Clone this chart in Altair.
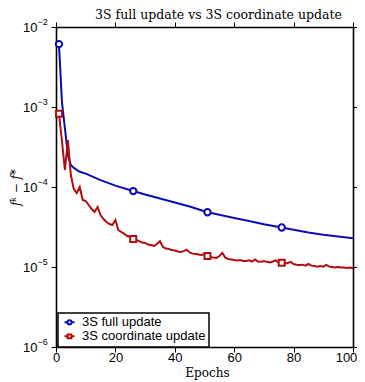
import altair as alt
import pandas as pd

BLUE = "#0c0cb4"
RED = "#b40c0c"
series_names = ["3S full update", "3S coordinate update"]

red_epochs = list(range(1, 101))
red_values = [
    8.24e-4, 3.76e-4, 1.63e-4, 3.87e-4, 1.41e-4, 9.44e-5, 8.41e-5, 1.00e-4, 6.88e-5, 6.68e-5,
    5.96e-5, 5.31e-5, 4.87e-5, 5.62e-5, 4.47e-5, 3.98e-5, 3.65e-5, 3.45e-5, 3.35e-5, 3.87e-5,
    2.90e-5, 2.74e-5, 2.59e-5, 2.44e-5, 2.37e-5, 2.24e-5, 2.18e-5, 2.11e-5, 2.02e-5, 2.00e-5,
    1.91e-5, 1.88e-5, 1.83e-5, 1.94e-5, 2.11e-5, 1.78e-5, 1.70e-5, 1.68e-5, 1.63e-5, 1.61e-5,
    1.56e-5, 1.54e-5, 1.58e-5, 1.65e-5, 1.52e-5, 1.47e-5, 1.45e-5, 1.43e-5, 1.41e-5, 1.45e-5,
    1.37e-5, 1.33e-5, 1.31e-5, 1.30e-5, 1.37e-5, 1.50e-5, 1.31e-5, 1.26e-5, 1.24e-5, 1.22e-5,
    1.21e-5, 1.22e-5, 1.19e-5, 1.19e-5, 1.21e-5, 1.17e-5, 1.24e-5, 1.17e-5, 1.16e-5, 1.19e-5,
    1.16e-5, 1.14e-5, 1.17e-5, 1.21e-5, 1.14e-5, 1.13e-5, 1.11e-5, 1.12e-5, 1.16e-5, 1.09e-5,
    1.07e-5, 1.06e-5, 1.07e-5, 1.04e-5, 1.09e-5, 1.04e-5, 1.03e-5, 1.01e-5, 1.03e-5, 1.01e-5,
    1.06e-5, 1.01e-5, 1.00e-5, 9.86e-6, 1.00e-5, 9.86e-6, 9.86e-6, 9.72e-6, 9.86e-6, 9.63e-6,
]
blue_epochs = [1, 2, 3, 4, 5, 6, 8, 10, 15, 20, 26, 30, 35, 40, 45, 51, 55, 60, 65, 70, 76, 80, 85, 90, 95, 100]
blue_values = [
    6.1e-3, 1.155e-3, 5.46e-4, 2.51e-4, 1.88e-4, 1.73e-4, 1.55e-4, 1.47e-4, 1.22e-4, 1.04e-4,
    8.9e-5, 8.05e-5, 7.18e-5, 6.4e-5, 5.7e-5, 4.83e-5, 4.49e-5, 4.1e-5, 3.76e-5, 3.43e-5,
    3.12e-5, 2.92e-5, 2.70e-5, 2.53e-5, 2.40e-5, 2.29e-5,
]
marker_epochs = [1, 26, 51, 76]
x_ticks = [0, 20, 40, 60, 80, 100]
y_ticks = [1e-2, 1e-3, 1e-4, 1e-5, 1e-6]
y_exponents = ["\u22122", "\u22123", "\u22124", "\u22125", "\u22126"]

df = pd.concat([
    pd.DataFrame({"series": series_names[0], "epoch": blue_epochs, "value": blue_values}),
    pd.DataFrame({"series": series_names[1], "epoch": red_epochs, "value": red_values}),
], ignore_index=True)
exp_df = pd.DataFrame({"tick": y_ticks, "exp": y_exponents})

xscale = alt.Scale(domain=[0, 100], nice=False, zero=False)
yscale = alt.Scale(type="log", domain=[1e-6, 1e-2], nice=False)
stroke_scale = alt.Scale(domain=series_names, range=[BLUE, RED])

CIRCLE_PATH = "M-1,0L-0.42,0M0.42,0L1,0M-0.42,0A0.42,0.42,0,1,1,0.42,0A0.42,0.42,0,1,1,-0.42,0Z"
SQUARE_PATH = "M-1,0L-0.38,0M0.38,0L1,0M-0.38,-0.38L0.38,-0.38L0.38,0.38L-0.38,0.38Z"

SANS = "Liberation Sans"
SERIF = "DejaVu Serif"

base = alt.Chart(df)

line_blue = base.transform_filter(alt.datum.series == series_names[0]).mark_line(
    strokeWidth=2, color=BLUE
).encode(
    x=alt.X("epoch:Q", scale=xscale, axis=alt.Axis(
        orient="bottom", values=x_ticks, title="Epochs", labelFont=SANS, labelFontSize=13,
        labelPadding=-1, labelFlush=False, tickSize=5, titleFont=SERIF, titleFontSize=12,
        labelOffset={"condition": {"test": "datum.value === 100", "value": -7}, "value": 0},
        titleFontWeight="normal", titleX=151, titleY=29.5, titleBaseline="alphabetic",
        titleAlign="center")),
    y=alt.Y("value:Q", scale=yscale, axis=alt.Axis(
        orient="left", values=y_ticks, labelExpr="'10'", labelFont=SANS, labelFontSize=13,
        labelPadding=14, labelFlush=False, tickSize=5, title="f\u1d4f \u2212 f*",
        titleFont=SERIF, titleFontStyle="italic", titleFontSize=12, titleFontWeight="normal",
        titleX=-41, titleY=160, titleAngle=270, titleAlign="center", titleBaseline="middle")),
)

line_red = base.transform_filter(alt.datum.series == series_names[1]).mark_line(
    strokeWidth=2, color=RED
).encode(
    x=alt.X("epoch:Q", scale=xscale, axis=None),
    y=alt.Y("value:Q", scale=yscale, axis=None),
)

markers_blue = base.transform_filter(
    alt.datum.series == series_names[0]
).transform_filter(
    alt.FieldOneOfPredicate(field="epoch", oneOf=marker_epochs)
).mark_point(shape="circle", size=40, filled=True, fill="white", stroke=BLUE, strokeWidth=2, opacity=1).encode(
    x=alt.X("epoch:Q", scale=xscale, axis=alt.Axis(
        orient="top", values=x_ticks, labels=False, tickSize=5,
        title="3S full update vs 3S coordinate update", titleFont=SERIF, titleFontSize=12.5,
        titleFontWeight="normal", titleX=162, titleY=-8.5, titleBaseline="alphabetic",
        titleAlign="center")),
    y=alt.Y("value:Q", scale=yscale, axis=None),
)

markers_red = base.transform_filter(
    alt.datum.series == series_names[1]
).transform_filter(
    alt.FieldOneOfPredicate(field="epoch", oneOf=marker_epochs)
).mark_point(shape="square", size=36, filled=True, fill="white", stroke=RED, strokeWidth=2, opacity=1).encode(
    x=alt.X("epoch:Q", scale=xscale, axis=None),
    y=alt.Y("value:Q", scale=yscale, axis=None),
)

legend_def = alt.Legend(
    title=None, orient="none", legendX=2, legendY=286, padding=3, symbolOffset=2,
    clipHeight=12.7, rowPadding=0, labelFont=SANS, labelFontSize=13, labelColor="black",
    labelOffset=6, strokeColor="black", fillColor="white", symbolOpacity=1,
    symbolStrokeWidth=2, symbolFillColor="white",
)
legend_layer = base.transform_filter(
    alt.FieldOneOfPredicate(field="epoch", oneOf=[1])
).mark_point(size=289, filled=True, fill="white", strokeWidth=2, opacity=0).encode(
    x=alt.X("epoch:Q", scale=xscale, axis=None),
    y=alt.Y("value:Q", scale=yscale, axis=None),
    stroke=alt.Stroke("series:N", scale=stroke_scale, legend=legend_def),
    shape=alt.Shape("series:N", scale=alt.Scale(domain=series_names, range=[CIRCLE_PATH, SQUARE_PATH]),
                    legend=legend_def),
)

exps = alt.Chart(exp_df).mark_text(
    align="left", baseline="middle", dy=-5, fontSize=9, font=SANS, color="black"
).encode(
    x=alt.value(-18.5),
    y=alt.Y("tick:Q", scale=yscale, axis=alt.Axis(
        orient="right", values=y_ticks, labels=False, tickSize=5, title=None)),
    text="exp:N",
)

chart = alt.layer(line_blue, line_red, markers_blue, markers_red, legend_layer, exps).resolve_axis(
    x="independent", y="independent"
).properties(
    width=297, height=320,
    autosize=alt.AutoSizeParams(type="none"),
    padding={"left": 48, "top": 19, "right": 4, "bottom": 35},
).configure_view(stroke=None).configure_axis(
    grid=False, domainColor="black", domainWidth=1.6, tickColor="black", tickWidth=1,
    labelColor="black", titleColor="black",
).configure_legend(strokeWidth=1.5)

chart.save("out.html", embed_options={"renderer": "svg", "actions": False})
